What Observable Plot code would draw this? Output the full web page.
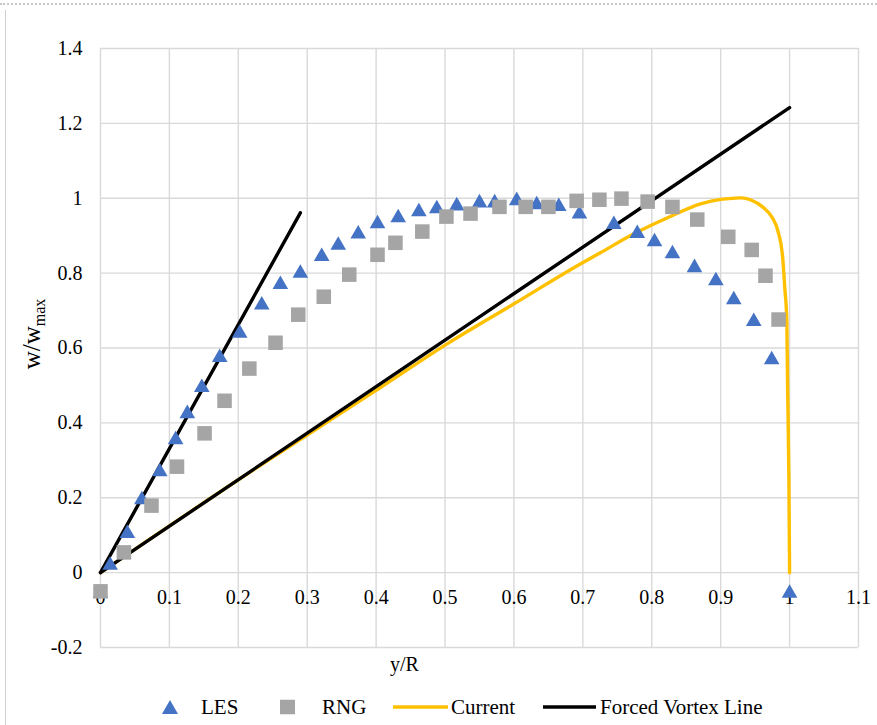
<!DOCTYPE html>
<html>
<head>
<meta charset="utf-8">
<script src="https://cdn.jsdelivr.net/npm/d3@7"></script>
<script src="https://cdn.jsdelivr.net/npm/@observablehq/plot@0.6"></script>
<style>
  body { margin: 0; background: #fff; font-family: "Liberation Serif", "Times New Roman", serif; }
  #wrap { position: relative; width: 877px; height: 725px; overflow: hidden; }
  #topline { position: absolute; left: 0; top: 3px; width: 877px; border-top: 2px dotted #c8c8c8; }
  #leftline { position: absolute; left: 5px; top: 10px; height: 715px; border-left: 1px solid #d0d0d0; }
  #legend { position: absolute; left: 0; top: 685px; width: 877px; height: 40px; font-size: 21px; color: #000; }
  .li { position: absolute; top: 22px; transform: translateY(-50%); line-height: 1; white-space: nowrap; }
  svg text { font-family: "Liberation Serif", "Times New Roman", serif; }
</style>
</head>
<body>
<div id="wrap">
  <div id="chart"></div>
  <div id="topline"></div>
  <div id="leftline"></div>
  <div id="legend">
    <svg class="li" style="left:161px" width="18" height="16"><path d="M9,1 L17,15 L1,15 Z" fill="#4472C4"/></svg>
    <span class="li" style="left:201px">LES</span>
    <svg class="li" style="left:280px" width="15" height="15"><rect x="0" y="0" width="15" height="15" fill="#A5A5A5"/></svg>
    <span class="li" style="left:322px">RNG</span>
    <svg class="li" style="left:393px" width="55" height="6"><line x1="0" y1="3" x2="55" y2="3" stroke="#FFC000" stroke-width="3.5"/></svg>
    <span class="li" style="left:451px">Current</span>
    <svg class="li" style="left:543px" width="53" height="6"><line x1="0" y1="3" x2="53" y2="3" stroke="#000" stroke-width="3.5"/></svg>
    <span class="li" style="left:600px">Forced Vortex Line</span>
  </div>
</div>
<script>
// ---- data ----
const xTicks = [0, 0.1, 0.2, 0.3, 0.4, 0.5, 0.6, 0.7, 0.8, 0.9, 1.0, 1.1];
const yTicks = [-0.2, 0, 0.2, 0.4, 0.6, 0.8, 1.0, 1.2, 1.4];

const lesX = [0.0, 0.014, 0.039, 0.060, 0.086, 0.109, 0.126, 0.147, 0.173, 0.202, 0.234, 0.261, 0.290, 0.321, 0.345, 0.374, 0.402, 0.432, 0.462, 0.488, 0.517, 0.550, 0.572, 0.604, 0.633, 0.665, 0.695, 0.745, 0.779, 0.804, 0.830, 0.862, 0.893, 0.919, 0.948, 0.974, 1.0];
const lesY = [-0.05, 0.025, 0.11, 0.20, 0.275, 0.36, 0.43, 0.50, 0.58, 0.645, 0.72, 0.775, 0.805, 0.85, 0.88, 0.91, 0.937, 0.953, 0.969, 0.977, 0.985, 0.993, 0.993, 0.999, 0.988, 0.983, 0.963, 0.935, 0.911, 0.889, 0.857, 0.820, 0.785, 0.734, 0.676, 0.574, -0.05];

const rngX = [0.0, 0.034, 0.074, 0.111, 0.151, 0.180, 0.216, 0.254, 0.287, 0.324, 0.361, 0.402, 0.428, 0.467, 0.502, 0.537, 0.579, 0.617, 0.650, 0.691, 0.724, 0.756, 0.794, 0.830, 0.866, 0.911, 0.945, 0.965, 0.984];
const rngY = [-0.05, 0.054, 0.179, 0.283, 0.372, 0.459, 0.545, 0.614, 0.689, 0.737, 0.796, 0.849, 0.881, 0.911, 0.951, 0.959, 0.977, 0.977, 0.977, 0.993, 0.996, 0.999, 0.991, 0.977, 0.943, 0.897, 0.862, 0.793, 0.676];

const curX = [0, 0.2, 0.406, 0.503, 0.6, 0.697, 0.726, 0.774, 0.823, 0.871, 0.9, 0.919, 0.93, 0.943, 0.962, 0.975, 0.983, 0.99, 0.993, 0.996, 0.997, 0.999, 1.0];
const curY = [0, 0.248, 0.494, 0.611, 0.718, 0.825, 0.855, 0.905, 0.948, 0.985, 0.997, 1.0, 1.001, 0.996, 0.975, 0.948, 0.913, 0.841, 0.761, 0.673, 0.513, 0.25, 0];

const fvAX = [0, 0.29], fvAY = [0, 0.961];
const fvBX = [0, 1.0],  fvBY = [0, 1.242];

// ---- build tables ----
const zip = (xs, ys, extra = {}) => xs.map((x, i) => ({x, y: ys[i], ...extra}));
const les = zip(lesX, lesY);
const rng = zip(rngX, rngY);
const cur = zip(curX, curY);
const fv = [...zip(fvAX, fvAY, {k: "a"}), ...zip(fvBX, fvBY, {k: "b"})];
const fmt = d => String(+d.toFixed(1));
const FONT = "Liberation Serif";

const svg = Plot.plot({
  width: 877,
  height: 685,
  marginLeft: 100,
  marginRight: 19,
  marginTop: 48,
  marginBottom: 38,
  style: {fontFamily: FONT, fontSize: "20px", color: "#000", background: "#fff", overflow: "visible"},
  x: {domain: [0, 1.1], axis: null},
  y: {domain: [-0.2, 1.4], axis: null},
  marks: [
    Plot.gridX(xTicks, {stroke: "#d9d9d9", strokeOpacity: 1, strokeWidth: 1.4}),
    Plot.gridY(yTicks, {stroke: "#d9d9d9", strokeOpacity: 1, strokeWidth: 1.4}),
    Plot.axisY(yTicks, {tickSize: 0, tickPadding: 18, tickFormat: fmt, fontSize: 20, fontFamily: FONT, fontVariant: "normal", label: null}),
    Plot.text(xTicks, {x: d => d, y: 0, dy: 25, text: fmt, fontSize: 20, fontFamily: FONT, lineAnchor: "middle"}),
    Plot.text(["y/R"], {frameAnchor: "bottom", dx: -75, dy: 17, fontSize: 20, fontFamily: FONT, lineAnchor: "middle"}),
    Plot.line(cur, {x: "x", y: "y", stroke: "#FFC000", strokeWidth: 3.4, curve: "monotone-x"}),
    Plot.line(fv, {x: "x", y: "y", z: "k", stroke: "#000", strokeWidth: 3.4}),
    Plot.dot(les, {x: "x", y: "y", symbol: "triangle", r: 5.8, fill: "#4472C4", stroke: null, dy: 2}),
    Plot.dot(rng, {x: "x", y: "y", symbol: "square", r: 8.2, fill: "#A5A5A5", stroke: null})
  ]
});

// y axis title with subscript
const t = d3.select(svg).append("text")
  .attr("transform", "translate(40,334) rotate(-90)")
  .attr("text-anchor", "middle")
  .attr("font-family", FONT)
  .attr("font-size", 25)
  .attr("fill", "#000");
t.append("tspan").text("w/w");
t.append("tspan").attr("font-size", 16).attr("dy", 5).text("max");

document.getElementById("chart").appendChild(svg);
</script>
</body>
</html>
